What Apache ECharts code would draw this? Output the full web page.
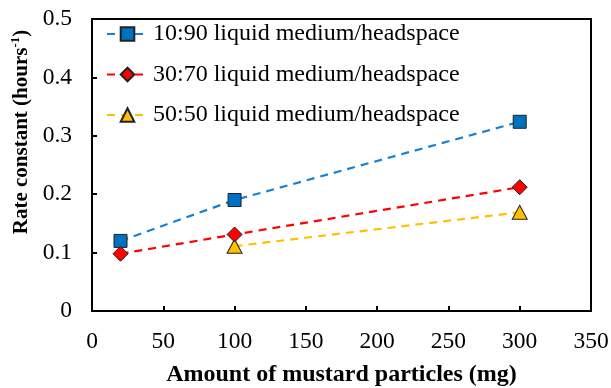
<!DOCTYPE html>
<html>
<head>
<meta charset="utf-8">
<script src="https://cdn.jsdelivr.net/npm/echarts@6/dist/echarts.min.js"></script>
<style>html,body{margin:0;padding:0;background:#fff}#c{width:611px;height:388px}</style>
</head>
<body>
<div id="c"></div>
<script>
const seriesNames = ['10:90 liquid medium/headspace', '30:70 liquid medium/headspace', '50:50 liquid medium/headspace'];
const xValues = [20, 100, 300];
const rate1090 = [0.12, 0.19, 0.324];
const rate3070 = [0.098, 0.131, 0.212];
const rate5050 = [null, 0.111, 0.169];
const xTicks = [0, 50, 100, 150, 200, 250, 300, 350];
const yTicks = [0, 0.1, 0.2, 0.3, 0.4, 0.5];

const font = 'Liberation Serif';
function pairs(vals) { return xValues.map((x, i) => [x, vals[i]]); }

const chart = echarts.init(document.getElementById('c'), null, {renderer: 'canvas'});
chart.setOption({
  animation: false,
  backgroundColor: '#fff',
  grid: {left: 92, right: 20, top: 19, bottom: 77, show: true, borderColor: '#000', borderWidth: 2, containLabel: false, outerBoundsMode: 'none'},
  legend: {
    orient: 'vertical', left: 101, top: 17, itemWidth: 41, itemHeight: 17, itemGap: 16.5,
    textStyle: {fontFamily: font, fontSize: 24, color: '#000', lineHeight: 24},
    data: seriesNames
  },
  xAxis: {
    type: 'value', min: 0, max: 350, interval: 50,
    name: 'Amount of mustard particles (mg)', nameLocation: 'middle', nameGap: 52,
    nameTextStyle: {fontFamily: font, fontSize: 24, fontWeight: 'bold', color: '#000'},
    axisLine: {show: true, lineStyle: {color: '#000', width: 2}},
    axisTick: {show: true, inside: true, length: 5, lineStyle: {color: '#000', width: 2}},
    axisLabel: {fontFamily: font, fontSize: 23.5, color: '#000', margin: 19, formatter: v => xTicks.includes(v) ? String(v) : ''},
    splitLine: {show: false}
  },
  yAxis: {
    type: 'value', min: 0, max: 0.5, interval: 0.1,
    name: '{b|Rate constant (hours}{s|-1}{b|)}', nameLocation: 'middle', nameGap: 56, nameRotate: 90,
    nameTextStyle: {
      padding: [0, 0, 0, 66],
      rich: {
        b: {fontFamily: font, fontSize: 21, fontWeight: 'bold', color: '#000', lineHeight: 23, verticalAlign: 'bottom'},
        s: {fontFamily: font, fontSize: 13, fontWeight: 'bold', color: '#000', lineHeight: 23, verticalAlign: 'top'}
      }
    },
    axisLine: {show: true, lineStyle: {color: '#000', width: 2}},
    axisTick: {show: true, inside: true, length: 5, lineStyle: {color: '#000', width: 2}},
    axisLabel: {fontFamily: font, fontSize: 23.5, color: '#000', margin: 20, formatter: v => {
      const t = yTicks.find(y => Math.abs(y - v) < 1e-9); return t === undefined ? '' : (t === 0 ? '0' : t.toFixed(1));
    }},
    splitLine: {show: false}
  },
  series: [
    {
      name: seriesNames[0], type: 'line', data: pairs(rate1090),
      symbol: 'rect', symbolSize: 13,
      lineStyle: {color: '#1a80d0', width: 2.2, type: [8, 6]},
      itemStyle: {color: '#0070C0', borderColor: '#222', borderWidth: 1}, z: 3
    },
    {
      name: seriesNames[1], type: 'line', data: pairs(rate3070),
      symbol: 'diamond', symbolSize: [15, 15],
      lineStyle: {color: '#FF0000', width: 2.2, type: [8, 6]},
      itemStyle: {color: '#FF0000', borderColor: '#222', borderWidth: 1}, z: 4
    },
    {
      name: seriesNames[2], type: 'line', data: pairs(rate5050),
      symbol: 'triangle', symbolSize: [15, 14],
      lineStyle: {color: '#FFC000', width: 2.2, type: [8, 6]},
      itemStyle: {color: '#FFC000', borderColor: '#222', borderWidth: 1}, z: 3
    }
  ]
});
</script>
</body>
</html>
